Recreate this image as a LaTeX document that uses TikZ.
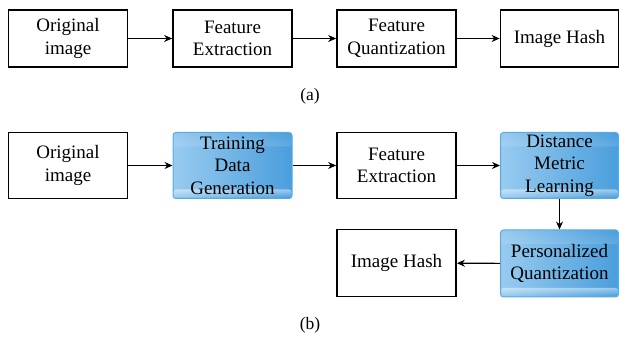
\documentclass[tikz,border=0pt]{standalone}
\usepackage{fontspec}
\setmainfont{Liberation Serif}
\usetikzlibrary{arrows.meta,fadings}
\definecolor{bluel}{HTML}{98CBF0}
\definecolor{blued}{HTML}{4A9EDC}
\definecolor{blueb}{HTML}{5AAAE0}
\tikzset{
  x=1pt,y=-1pt,
  plainbox/.style={draw=black,line width=1.8pt,minimum width=119pt,minimum height=56pt,
    align=center,inner sep=0pt,font=\fontsize{19}{22.5}\selectfont},
  bluebox/.style={draw=blueb,line width=1pt,rounded corners=3pt,left color=bluel,right color=blued,
    minimum width=119pt,minimum height=66pt,align=center,inner sep=0pt,
    font=\fontsize{19}{22.5}\selectfont,
    path picture={
      \fill[white,opacity=0.6,path fading=north] ([yshift=0pt]path picture bounding box.north west) rectangle ([yshift=-14pt]path picture bounding box.north east);
      \fill[white,opacity=0.45,path fading=south] ([yshift=1pt]path picture bounding box.south west) rectangle ([yshift=9pt]path picture bounding box.south east);
    }},
  conn/.style={-{Stealth[length=8pt,width=7pt]},line width=1.1pt},
  captext/.style={font=\fontsize{17.5}{20}\selectfont}
}
\begin{document}
\begin{tikzpicture}
\useasboundingbox (0,0) rectangle (619,339);
% (a)
\node[plainbox,minimum height=57pt] (a1) at (68,38.5) {Original\\image};
\node[plainbox,minimum height=57pt] (a2) at (232.5,38.5) {Feature\\Extraction};
\node[plainbox,minimum height=57pt] (a3) at (396.5,38.5) {Feature\\Quantization};
\node[plainbox,minimum height=57pt,minimum width=118pt] (a4) at (559.5,38.5) {Image Hash};
\draw[conn] (a1) -- (a2);
\draw[conn] (a2) -- (a3);
\draw[conn] (a3) -- (a4);
\node[captext] (la) at (310,96) {(a)};
% (b)
\node[plainbox,minimum height=66pt] (b1) at (68,165.5) {Original\\image};
\node[bluebox] (b2) at (232.5,165.5) {Training\\Data\\Generation};
\node[plainbox,minimum height=66pt] (b3) at (396.5,165.5) {Feature\\Extraction};
\node[bluebox,minimum width=118pt] (b4) at (559.5,165.5) {Distance\\Metric\\Learning};
\node[bluebox,minimum width=118pt,minimum height=67pt] (b5) at (559.5,263.5) {Personalized\\Quantization};
\node[plainbox,minimum height=67pt] (b6) at (396.5,263) {Image Hash};
\draw[conn] (b1) -- (b2);
\draw[conn] (b2) -- (b3);
\draw[conn] (b3) -- (b4);
\draw[conn] (b4) -- (b5);
\draw[conn] (b5) -- (b6);
\node[captext] (lb) at (310,325) {(b)};
\end{tikzpicture}
\end{document}
